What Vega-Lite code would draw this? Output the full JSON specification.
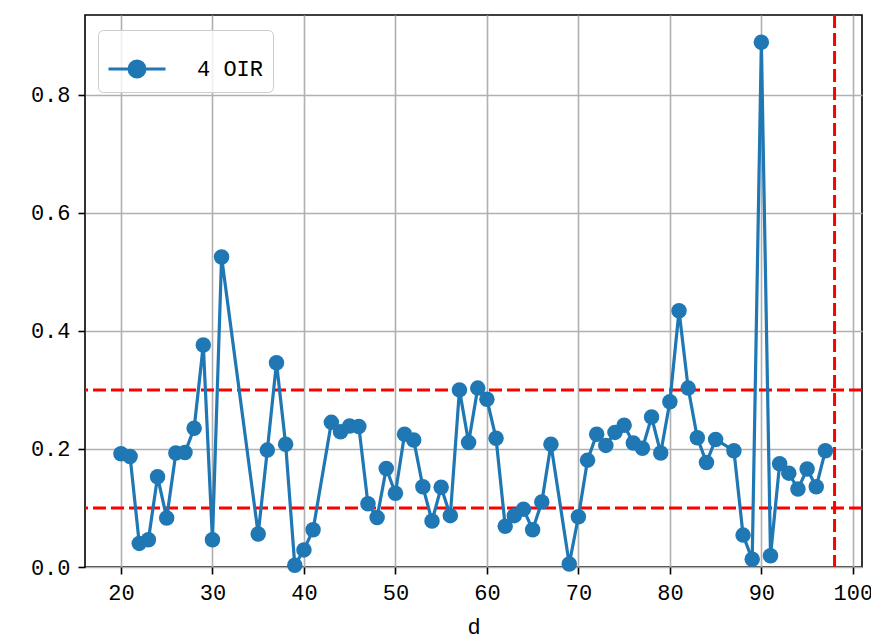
{
  "$schema": "https://vega.github.io/schema/vega-lite/v6.json",
  "width": 777,
  "height": 552,
  "autosize": {"type": "none"},
  "padding": {"left": 85, "top": 15, "right": 9, "bottom": 73},
  "background": "white",
  "config": {
    "font": "Liberation Mono",
    "view": {"stroke": "black", "strokeWidth": 1.6},
    "axis": {
      "grid": true,
      "gridColor": "#b0b0b0",
      "gridWidth": 1.6,
      "gridOpacity": 1,
      "domain": false,
      "tickColor": "black",
      "tickWidth": 1.6,
      "tickSize": 7,
      "labelFont": "Liberation Mono",
      "labelFontSize": 22,
      "labelColor": "black",
      "labelPadding": 8,
      "titleFont": "Liberation Mono",
      "titleFontSize": 22,
      "titleFontWeight": "normal",
      "titleColor": "black"
    }
  },
  "datasets": {
    "series": [
      {"d": 20, "value": 0.192, "series": "4 OIR"},
      {"d": 21, "value": 0.187, "series": "4 OIR"},
      {"d": 22, "value": 0.040, "series": "4 OIR"},
      {"d": 23, "value": 0.046, "series": "4 OIR"},
      {"d": 24, "value": 0.153, "series": "4 OIR"},
      {"d": 25, "value": 0.083, "series": "4 OIR"},
      {"d": 26, "value": 0.193, "series": "4 OIR"},
      {"d": 27, "value": 0.194, "series": "4 OIR"},
      {"d": 28, "value": 0.235, "series": "4 OIR"},
      {"d": 29, "value": 0.376, "series": "4 OIR"},
      {"d": 30, "value": 0.046, "series": "4 OIR"},
      {"d": 31, "value": 0.525, "series": "4 OIR"},
      {"d": 35, "value": 0.056, "series": "4 OIR"},
      {"d": 36, "value": 0.198, "series": "4 OIR"},
      {"d": 37, "value": 0.346, "series": "4 OIR"},
      {"d": 38, "value": 0.208, "series": "4 OIR"},
      {"d": 39, "value": 0.003, "series": "4 OIR"},
      {"d": 40, "value": 0.029, "series": "4 OIR"},
      {"d": 41, "value": 0.063, "series": "4 OIR"},
      {"d": 43, "value": 0.245, "series": "4 OIR"},
      {"d": 44, "value": 0.229, "series": "4 OIR"},
      {"d": 45, "value": 0.239, "series": "4 OIR"},
      {"d": 46, "value": 0.238, "series": "4 OIR"},
      {"d": 47, "value": 0.107, "series": "4 OIR"},
      {"d": 48, "value": 0.084, "series": "4 OIR"},
      {"d": 49, "value": 0.167, "series": "4 OIR"},
      {"d": 50, "value": 0.125, "series": "4 OIR"},
      {"d": 51, "value": 0.225, "series": "4 OIR"},
      {"d": 52, "value": 0.215, "series": "4 OIR"},
      {"d": 53, "value": 0.136, "series": "4 OIR"},
      {"d": 54, "value": 0.078, "series": "4 OIR"},
      {"d": 55, "value": 0.135, "series": "4 OIR"},
      {"d": 56, "value": 0.087, "series": "4 OIR"},
      {"d": 57, "value": 0.300, "series": "4 OIR"},
      {"d": 58, "value": 0.211, "series": "4 OIR"},
      {"d": 59, "value": 0.303, "series": "4 OIR"},
      {"d": 60, "value": 0.284, "series": "4 OIR"},
      {"d": 61, "value": 0.218, "series": "4 OIR"},
      {"d": 62, "value": 0.069, "series": "4 OIR"},
      {"d": 63, "value": 0.087, "series": "4 OIR"},
      {"d": 64, "value": 0.098, "series": "4 OIR"},
      {"d": 65, "value": 0.063, "series": "4 OIR"},
      {"d": 66, "value": 0.110, "series": "4 OIR"},
      {"d": 67, "value": 0.208, "series": "4 OIR"},
      {"d": 69, "value": 0.005, "series": "4 OIR"},
      {"d": 70, "value": 0.085, "series": "4 OIR"},
      {"d": 71, "value": 0.181, "series": "4 OIR"},
      {"d": 72, "value": 0.225, "series": "4 OIR"},
      {"d": 73, "value": 0.206, "series": "4 OIR"},
      {"d": 74, "value": 0.228, "series": "4 OIR"},
      {"d": 75, "value": 0.240, "series": "4 OIR"},
      {"d": 76, "value": 0.210, "series": "4 OIR"},
      {"d": 77, "value": 0.201, "series": "4 OIR"},
      {"d": 78, "value": 0.254, "series": "4 OIR"},
      {"d": 79, "value": 0.193, "series": "4 OIR"},
      {"d": 80, "value": 0.280, "series": "4 OIR"},
      {"d": 81, "value": 0.434, "series": "4 OIR"},
      {"d": 82, "value": 0.303, "series": "4 OIR"},
      {"d": 83, "value": 0.219, "series": "4 OIR"},
      {"d": 84, "value": 0.177, "series": "4 OIR"},
      {"d": 85, "value": 0.216, "series": "4 OIR"},
      {"d": 87, "value": 0.197, "series": "4 OIR"},
      {"d": 88, "value": 0.054, "series": "4 OIR"},
      {"d": 89, "value": 0.013, "series": "4 OIR"},
      {"d": 90, "value": 0.889, "series": "4 OIR"},
      {"d": 91, "value": 0.019, "series": "4 OIR"},
      {"d": 92, "value": 0.175, "series": "4 OIR"},
      {"d": 93, "value": 0.159, "series": "4 OIR"},
      {"d": 94, "value": 0.132, "series": "4 OIR"},
      {"d": 95, "value": 0.166, "series": "4 OIR"},
      {"d": 96, "value": 0.136, "series": "4 OIR"},
      {"d": 97, "value": 0.197, "series": "4 OIR"}
    ],
    "bands": [{"level": 0.1}, {"level": 0.3}],
    "cutoff": [{"d": 98}]
  },
  "layer": [
    {
      "data": {"name": "bands"},
      "mark": {"type": "rule", "color": "red", "strokeWidth": 3, "strokeDash": [13, 5]},
      "encoding": {
        "y": {"field": "level", "type": "quantitative", "scale": {"domain": [0, 0.935], "nice": false, "zero": false}}
      }
    },
    {
      "data": {"name": "cutoff"},
      "mark": {"type": "rule", "color": "red", "strokeWidth": 3, "strokeDash": [13, 5]},
      "encoding": {
        "x": {"field": "d", "type": "quantitative", "scale": {"domain": [16.07, 101.0], "nice": false, "zero": false}}
      }
    },
    {
      "data": {"name": "series"},
      "mark": {"type": "line", "strokeWidth": 3.2, "point": {"filled": true, "size": 240, "opacity": 1}},
      "encoding": {
        "x": {
          "field": "d",
          "type": "quantitative",
          "title": "d",
          "scale": {"domain": [16.07, 101.0], "nice": false, "zero": false},
          "axis": {"values": [20, 30, 40, 50, 60, 70, 80, 90, 100], "format": "d", "titlePadding": 13}
        },
        "y": {
          "field": "value",
          "type": "quantitative",
          "title": null,
          "scale": {"domain": [0, 0.935], "nice": false, "zero": false},
          "axis": {"values": [0, 0.2, 0.4, 0.6, 0.8], "format": ".1f"}
        },
        "color": {
          "field": "series",
          "type": "nominal",
          "scale": {"range": ["#1f77b4"]},
          "legend": {
            "title": null,
            "orient": "none",
            "legendX": 13,
            "legendY": 15,
            "labelFont": "Liberation Mono",
            "labelFontSize": 22,
            "labelColor": "black",
            "labelOffset": 30,
            "symbolType": "M-1,0L1,0M0.28,0A0.28,0.28 0 1,1 -0.28,0A0.28,0.28 0 1,1 0.28,0Z",
            "symbolSize": 3249,
            "symbolStrokeWidth": 3,
            "symbolFillColor": "#1f77b4",
            "symbolStrokeColor": "#1f77b4",
            "symbolOpacity": 1,
            "strokeColor": "#cccccc",
            "fillColor": "rgba(255,255,255,0.8)",
            "cornerRadius": 5,
            "padding": 9
          }
        }
      }
    }
  ]
}
